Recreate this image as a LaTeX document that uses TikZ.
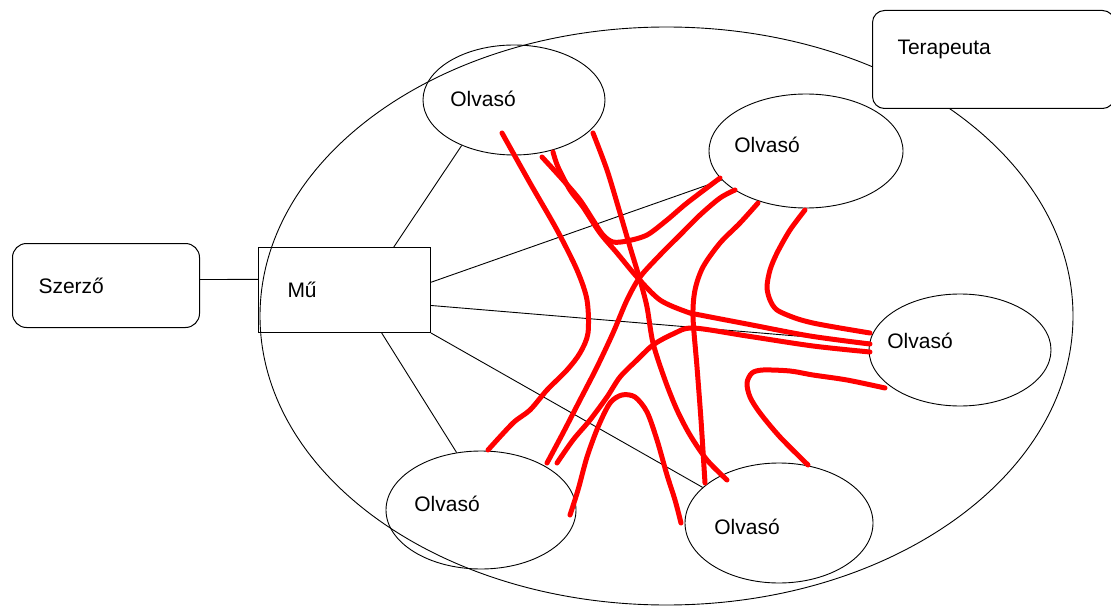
\documentclass[tikz,border=0pt]{standalone}
\usepackage{fontspec}
\setmainfont{Liberation Sans}
\usetikzlibrary{shapes.geometric,calc}
\begin{document}
\begin{tikzpicture}[x=1pt,y=-1pt,
  lbl/.style={font=\fontsize{21}{25}\selectfont},
  olv/.style={ellipse, draw, line width=0.9pt, inner sep=0pt},
  conn/.style={line width=0.9pt},
  scrib/.style={draw=red, line width=5pt, line cap=round, line join=round},
  rbox/.style={draw, line width=1pt, inner ysep=0pt, align=left, lbl, anchor=north west}]
\useasboundingbox (0,0) rectangle (1111,607);
% big circle
\node[ellipse, draw, line width=0.9pt, minimum width=813pt, minimum height=578pt, inner sep=0pt] (circ) at (666.5,316) {};
% readers
\node[olv, minimum width=182pt, minimum height=110pt, label={[lbl,xshift=-31pt,yshift=1pt]center:Olvasó}] (o1) at (514,100) {};
\node[olv, minimum width=194pt, minimum height=114pt, label={[lbl,xshift=-39pt,yshift=6pt]center:Olvasó}] (o2) at (806,151) {};
\node[olv, minimum width=182pt, minimum height=112pt, label={[lbl,xshift=-40pt,yshift=9pt]center:Olvasó}] (o3) at (960,350) {};
\node[olv, minimum width=190pt, minimum height=118pt, label={[lbl,xshift=-34pt,yshift=6pt]center:Olvasó}] (o4) at (481,510) {};
\node[olv, minimum width=188pt, minimum height=120pt, label={[lbl,xshift=-32pt,yshift=-4pt]center:Olvasó}] (o5) at (779,523) {};
% boxes
\node[rbox, rounded corners=14pt, minimum height=84pt, text width=135pt, inner xsep=26pt] (sz) at (12,243) {Szerző};
\node[rbox, minimum height=85pt, text width=114pt, inner xsep=29pt] (mu) at (258,247) {Mű};
\node[rbox, fill=white, rounded corners=12pt, minimum height=98pt, text width=192pt, inner xsep=25pt, text height=15pt, text depth=25pt] (tera) at (872,10) {Terapeuta};
% black connectors
\draw[conn] ($(sz.north east)!0.43!(sz.south east)$) -- ($(mu.north west)!0.376!(mu.south west)$);
\draw[conn] ($(mu.north west)!0.785!(mu.north east)$) -- (o1.221);
\draw[conn] ($(mu.north east)!0.41!(mu.south east)$) -- (o2.199.5);
\draw[conn] ($(mu.north east)!0.68!(mu.south east)$) -- (o3.175.6);
\draw[conn] (mu.south east) -- (o5.155.5);
\draw[conn] ($(mu.south west)!0.715!(mu.south east)$) -- (o4.113.6);
% red scribbles
\draw[scrib] plot[smooth, tension=0.5] coordinates {(502,133) (530,183) (557,230) (577,270) (587,300) (588,333) (580,353) (567,370) (547,390) (530,410) (513,423) (488,450)};
\draw[scrib] plot[smooth, tension=0.5] coordinates {(542,157) (563,180) (580,200) (593,220) (603,235) (613,242) (627,241) (647,235) (667,220) (687,203) (720,178)};
\draw[scrib] plot[smooth, tension=0.5] coordinates {(553,152) (558,167) (570,190) (583,207) (600,233) (617,253) (637,277) (660,300) (687,312) (700,315) (747,324) (810,336) (870,344)};
\draw[scrib] plot[smooth, tension=0.5] coordinates {(593,133) (607,170) (620,213) (630,247) (640,280) (647,307) (653,343) (665,380) (677,410) (690,435) (707,460) (727,480)};
\draw[scrib] plot[smooth, tension=0.5] coordinates {(547,463) (563,433) (580,400) (597,367) (613,333) (627,300) (640,277) (660,255) (680,235) (700,215) (720,198) (735,190)};
\draw[scrib] plot[smooth, tension=0.5] coordinates {(557,463) (573,440) (590,420) (607,397) (620,377) (637,360) (653,345) (673,334) (693,328) (747,336) (813,346) (870,352)};
\draw[scrib] plot[smooth, tension=0.5] coordinates {(570,515) (578,490) (587,457) (598,427) (610,403) (622,395) (635,397) (647,412) (657,440) (667,475) (675,500) (681,523)};
\draw[scrib] plot[smooth, tension=0.5] coordinates {(758,203) (740,223) (720,243) (703,267) (695,290) (693,317) (697,367) (701,420) (705,483)};
\draw[scrib] plot[smooth, tension=0.5] coordinates {(805,210) (790,230) (777,253) (770,270) (767,287) (770,300) (777,310) (795,318) (813,323) (840,328) (870,333)};
\draw[scrib] plot[smooth, tension=0.5] coordinates {(885,388) (847,380) (813,375) (790,371) (763,370) (752,373) (747,383) (750,397) (760,413) (780,437) (808,465)};
\end{tikzpicture}
\end{document}
